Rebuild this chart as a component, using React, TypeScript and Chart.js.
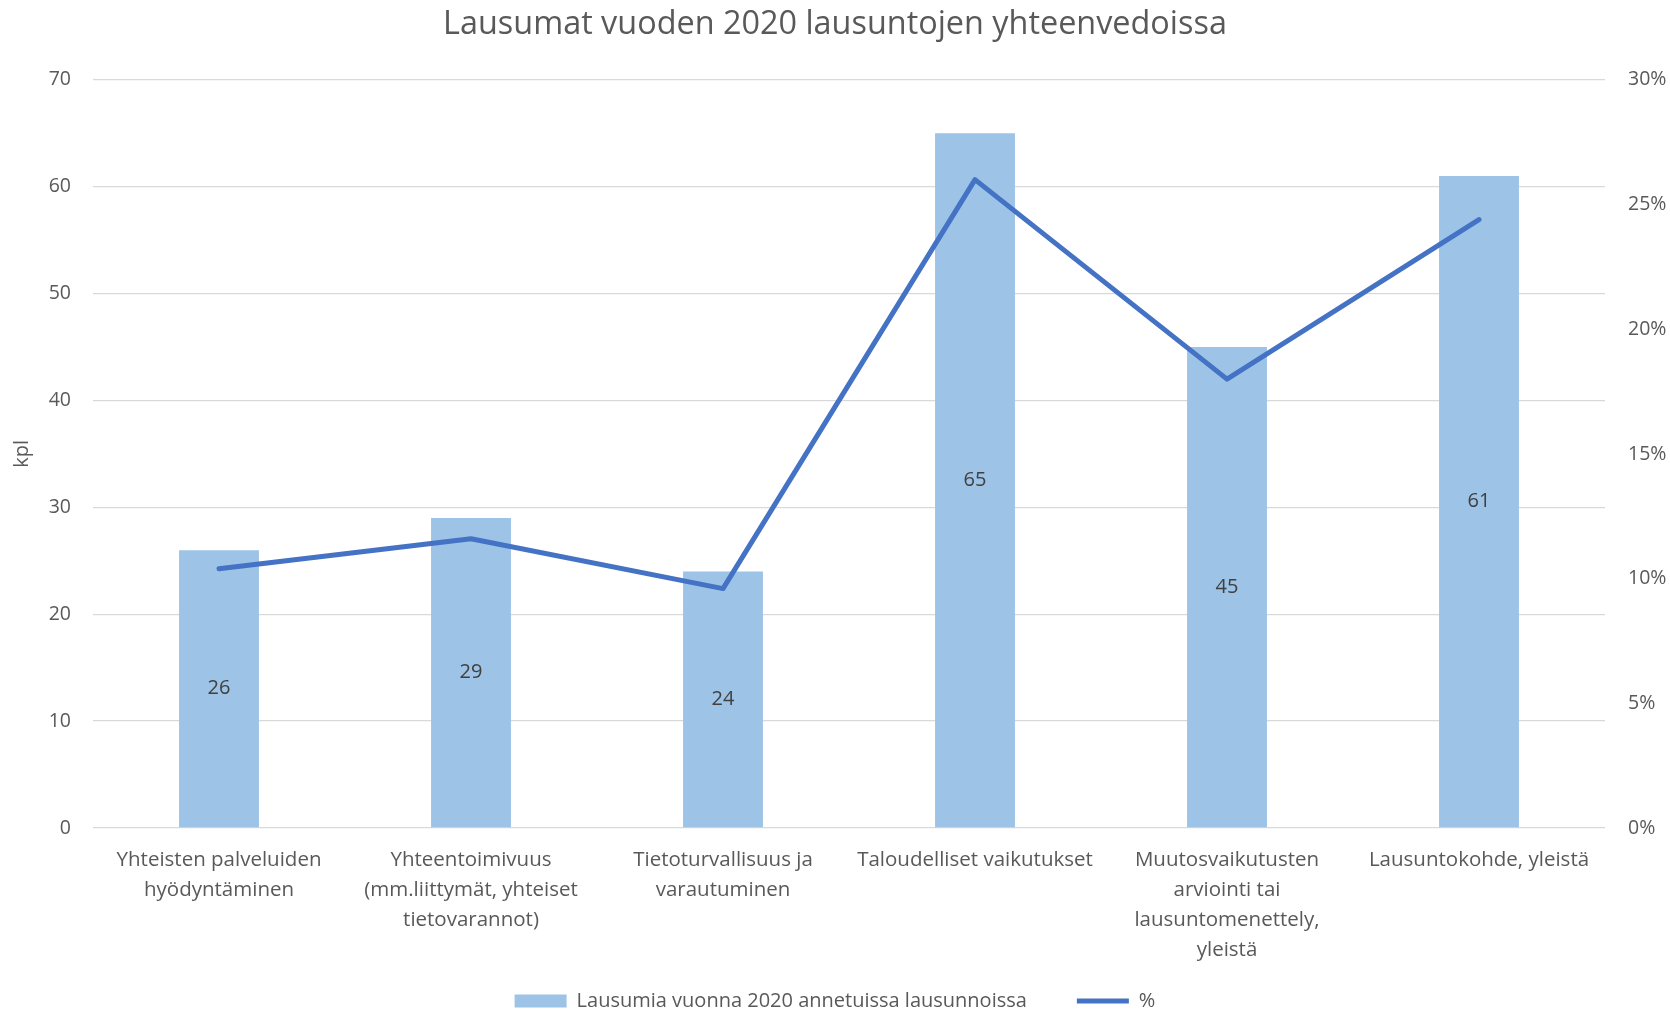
import React, { useEffect, useRef } from "react";
import { Chart, registerables } from "chart.js";

Chart.register(...registerables);

const categories: string[][] = [
  ["Yhteisten palveluiden", "hyödyntäminen"],
  ["Yhteentoimivuus", "(mm.liittymät, yhteiset", "tietovarannot)"],
  ["Tietoturvallisuus ja", "varautuminen"],
  ["Taloudelliset vaikutukset"],
  ["Muutosvaikutusten", "arviointi tai", "lausuntomenettely,", "yleistä"],
  ["Lausuntokohde, yleistä"],
];
const countValues: number[] = [26, 29, 24, 65, 45, 61];
const percentValues: number[] = [10.4, 11.6, 9.6, 26, 18, 24.4];
const barLabel = "Lausumia vuonna 2020 annetuissa lausunnoissa";
const lineLabel = "%";
const titleText = "Lausumat vuoden 2020 lausuntojen yhteenvedoissa";
const yTitle = "kpl";

const FONT = "'Open Sans', 'Noto Sans', sans-serif";
const TEXT = "#595959";

const barValueLabels = {
  id: "barValueLabels",
  afterDatasetsDraw(chart: any) {
    const ctx = chart.ctx;
    const meta = chart.getDatasetMeta(0);
    ctx.save();
    ctx.fillStyle = "#404040";
    ctx.font = `20px ${FONT}`;
    ctx.textAlign = "center";
    ctx.textBaseline = "middle";
    meta.data.forEach((el: any, i: number) => {
      const y = (el.y + el.base) / 2;
      ctx.fillText(String(countValues[i]), el.x, y);
    });
    ctx.restore();
  },
};

export default function App() {
  const ref = useRef<HTMLCanvasElement | null>(null);
  useEffect(() => {
    document.body.style.margin = "0";
    const chart = new Chart(ref.current as HTMLCanvasElement, {
      type: "bar",
      data: {
        labels: categories as any,
        datasets: [
          {
            type: "bar",
            label: barLabel,
            data: countValues,
            backgroundColor: "#9DC3E6",
            borderWidth: 0,
            yAxisID: "y",
            order: 1,
            barPercentage: 0.317,
            categoryPercentage: 1,
            pointStyle: "rect",
          } as any,
          {
            type: "line",
            label: lineLabel,
            data: percentValues,
            borderColor: "#4472C4",
            backgroundColor: "#4472C4",
            borderWidth: 5,
            borderCapStyle: "round",
            borderJoinStyle: "round",
            pointRadius: 0,
            pointHoverRadius: 0,
            tension: 0,
            yAxisID: "y1",
            order: 0,
            pointStyle: "line",
          } as any,
        ],
      },
      options: {
        responsive: false,
        animation: false,
        layout: { padding: { left: 0, right: 0, top: 0, bottom: -11 } },
        plugins: {
          tooltip: { enabled: false },
          title: {
            display: true,
            text: titleText,
            color: TEXT,
            font: { family: FONT, size: 32.4, weight: "normal" },
            padding: { top: 5, bottom: 36 },
          },
          legend: {
            position: "bottom",
            labels: {
              color: TEXT,
              font: { family: FONT, size: 20 },
              usePointStyle: true,
              pointStyleWidth: 52,
              boxHeight: 13,
              padding: 50,
              sort: (a: any, b: any) => a.datasetIndex - b.datasetIndex,
            },
          },
        },
        scales: {
          x: {
            grid: { display: false, drawTicks: false },
            border: { display: false },
            ticks: {
              color: TEXT,
              font: { family: FONT, size: 20.5, lineHeight: 1.46 },
              maxRotation: 0,
              minRotation: 0,
              autoSkip: false,
              padding: 17,
            },
            afterFit: (scale: any) => {
              scale.height = 113;
              // let the multi-line category labels extend below the axis box
              scale._computeLabelArea = () => undefined;
            },
          },
          y: {
            position: "left",
            min: 0,
            max: 70,
            ticks: {
              stepSize: 10,
              color: TEXT,
              font: { family: FONT, size: 19.5 },
              padding: 22,
            },
            grid: { color: "#D9D9D9", lineWidth: 1.3, drawTicks: false },
            border: { display: false },
            title: {
              display: true,
              text: yTitle,
              color: TEXT,
              font: { family: FONT, size: 20 },
              padding: { top: 10, bottom: 0 },
            },
            afterFit: (scale: any) => {
              scale.width = 93;
            },
          },
          y1: {
            position: "right",
            min: 0,
            max: 30,
            ticks: {
              stepSize: 5,
              color: TEXT,
              font: { family: FONT, size: 19.5 },
              padding: 23,
              callback: (v: any) => `${v}%`,
            },
            grid: { display: false, drawTicks: false },
            border: { display: false },
            afterFit: (scale: any) => {
              scale.width = 65;
            },
          },
        },
      },
      plugins: [barValueLabels],
    });
    return () => chart.destroy();
  }, []);
  return <canvas ref={ref} width={1670} height={1010} style={{ display: "block" }} />;
}
